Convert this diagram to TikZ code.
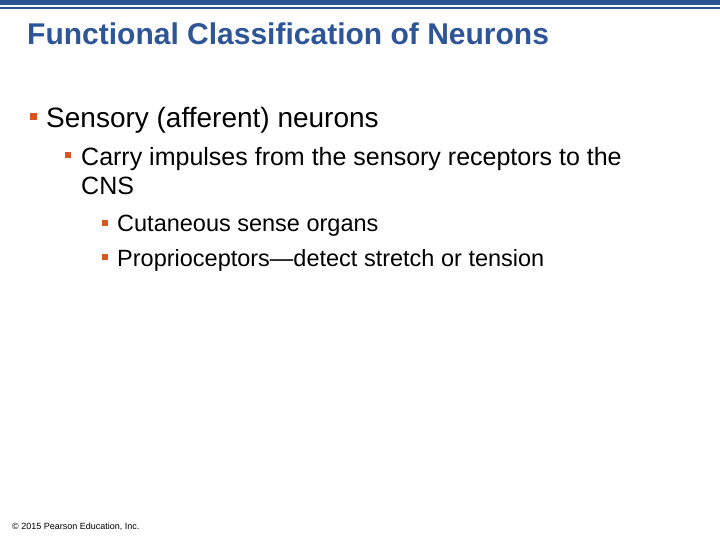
\documentclass[tikz,border=0pt]{standalone}
\usepackage{fontspec}
\setmainfont{Liberation Sans}
\definecolor{tblue}{HTML}{2E5597}
\definecolor{bblue}{HTML}{2F5496}
\definecolor{borange}{HTML}{D9541E}
\begin{document}
\begin{tikzpicture}[x=1pt,y=-1pt,
  txt/.style={anchor=base west,inner sep=0pt},
  bul/.style={fill=borange,inner sep=0pt,minimum size=#1,draw=none}]
\useasboundingbox (0,0) rectangle (720,540);
\fill[bblue] (0,0) rectangle (720,5.5);
\fill[bblue] (0,7.5) rectangle (720,9.5);
\node[txt,text=tblue,font=\fontsize{30}{34}\selectfont\bfseries] (title) at (27,45) {Functional Classification of Neurons};
\node[bul=7pt] (b1) at (33,117) {};
\node[txt,font=\fontsize{28}{32}\selectfont] (t1) at (46,128) {Sensory (afferent) neurons};
\node[bul=6pt] (b2) at (68,155) {};
\node[txt,font=\fontsize{25}{29}\selectfont] (t2) at (81,166) {Carry impulses from the sensory receptors to the};
\node[txt,font=\fontsize{25}{29}\selectfont] (t2b) at (81,195) {CNS};
\node[bul=5.5pt] (b3) at (105,223) {};
\node[txt,font=\fontsize{23.5}{27}\selectfont] (t3) at (117,232) {Cutaneous sense organs};
\node[bul=5.5pt] (b4) at (105,257) {};
\node[txt,font=\fontsize{23.5}{27}\selectfont] (t4) at (117,266) {Proprioceptors—detect stretch or tension};
\node[txt,font=\fontsize{9}{10}\selectfont] (foot) at (12,529) {© 2015 Pearson Education, Inc.};
\end{tikzpicture}
\end{document}
